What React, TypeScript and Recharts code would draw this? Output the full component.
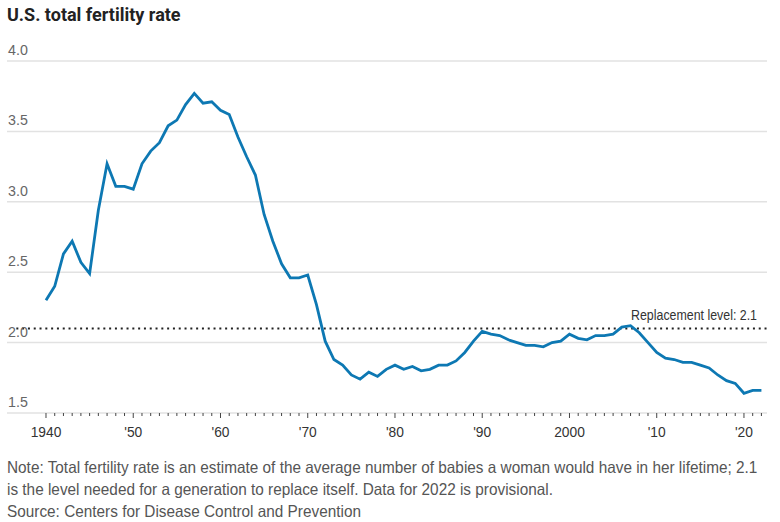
import React from 'react';
import { LineChart, Line, XAxis, YAxis, CartesianGrid, ReferenceLine } from 'recharts';

// U.S. total fertility rate, 1940-2022 (2022 provisional)
const years = Array.from({ length: 83 }, (_, i) => 1940 + i);
const fertility = [
    2.30, 2.40, 2.63, 2.72, 2.57, 2.49, 2.94, 3.27, 3.11, 3.11,
    3.09, 3.27, 3.36, 3.42, 3.54, 3.58, 3.69, 3.77, 3.70, 3.71,
    3.65, 3.62, 3.46, 3.32, 3.19, 2.91, 2.72, 2.56, 2.46, 2.46,
    2.48, 2.27, 2.01, 1.88, 1.84, 1.77, 1.74, 1.79, 1.76, 1.81,
    1.84, 1.81, 1.83, 1.80, 1.81, 1.84, 1.84, 1.87, 1.93, 2.01,
    2.08, 2.06, 2.05, 2.02, 2.00, 1.98, 1.98, 1.97, 2.00, 2.01,
    2.06, 2.03, 2.02, 2.05, 2.05, 2.06, 2.11, 2.12, 2.07, 2.00,
    1.93, 1.89, 1.88, 1.86, 1.86, 1.84, 1.82, 1.77, 1.73, 1.71,
    1.64, 1.66, 1.66,
];
const decadeLabels: Record<number, string> = {
    1940: '1940', 1950: "'50", 1960: "'60", 1970: "'70", 1980: "'80",
    1990: "'90", 2000: '2000', 2010: "'10", 2020: "'20",
};
const yTicks = [1.5, 2.0, 2.5, 3.0, 3.5, 4.0];
const replacementLevel = 2.1;
const replacementStart = 1936.6;

const data = years.map((year, i) => ({ year, rate: fertility[i] }));

// no narrow font installed, so Liberation Sans squeezed a bit
const font = "'Liberation Sans', Arial, sans-serif";

const XTick = (props: any) => {
    const { x, y, payload } = props;
    const major = payload.value % 10 === 0;
    return (
        <g>
            <line x1={x} x2={x} y1={y} y2={y + (major ? 5 : 3)} stroke="#444" strokeWidth={1} />
            {major && (
                <text transform={`translate(${x},${y + 24}) scale(0.92,1)`} textAnchor="middle" fontSize={15} fill="#333" fontFamily={font}>
                    {decadeLabels[payload.value]}
                </text>
            )}
        </g>
    );
};

const YTick = (props: any) => {
    const { y, payload } = props;
    return (
        <text transform={`translate(8,${y - 6}) scale(0.92,1)`} textAnchor="start" fontSize={15.5} fill="#666" fontFamily={font}>
            {Number(payload.value).toFixed(1)}
        </text>
    );
};

const ReplacementLabel = (props: any) => {
    const { viewBox } = props;
    return (
        <text
            transform={`translate(${viewBox.x + viewBox.width - 10},${viewBox.y - 9}) scale(0.8,1)`}
            textAnchor="end"
            fontSize={15.5}
            fill="#333"
            fontFamily={font}
        >
            Replacement level: {replacementLevel}
        </text>
    );
};

const App: React.FC = () => {
    return (
        <div style={{ position: 'absolute', left: 0, top: 0, width: 780, height: 522, background: '#fff' }}>
            <div style={{ position: 'absolute', left: 7, top: 4, fontFamily: 'Roboto, sans-serif', fontWeight: 700, fontSize: 18, color: '#222' }}>
                U.S. total fertility rate
            </div>
            <LineChart width={780} height={522} data={data} margin={{ top: 61, right: 13, bottom: 108, left: 6 }}>
                <CartesianGrid vertical={false} stroke="#e2e2e2" strokeWidth={1.5} />
                <XAxis
                    dataKey="year"
                    type="number"
                    domain={[1935.53, 2022.64]}
                    ticks={years}
                    interval={0}
                    height={1}
                    axisLine={false}
                    tickLine={false}
                    tickSize={0}
                    tickMargin={0}
                    tick={XTick}
                    allowDataOverflow
                />
                <YAxis
                    domain={[1.5, 4.0]}
                    ticks={yTicks}
                    width={1}
                    axisLine={false}
                    tickLine={false}
                    tick={YTick}
                />
                <ReferenceLine
                    segment={[{ x: replacementStart, y: replacementLevel }, { x: 2022.64, y: replacementLevel }]}
                    stroke="#222"
                    strokeWidth={2.2}
                    strokeDasharray="2 3.8"
                    label={ReplacementLabel}
                    ifOverflow="extendDomain"
                />
                <Line type="linear" dataKey="rate" stroke="#0d78b3" strokeWidth={2.8} dot={false} isAnimationActive={false} />
            </LineChart>
            <div
                style={{
                    position: 'absolute',
                    left: 7,
                    top: 456,
                    width: 850,
                    fontFamily: font,
                    fontSize: 16.5,
                    lineHeight: '22px',
                    color: '#555',
                    transform: 'scaleX(0.93)',
                    transformOrigin: 'left top',
                }}
            >
                Note: Total fertility rate is an estimate of the average number of babies a woman would have in her lifetime; 2.1
                <br />
                is the level needed for a generation to replace itself. Data for 2022 is provisional.
                <br />
                Source: Centers for Disease Control and Prevention
            </div>
        </div>
    );
};

export default App;
